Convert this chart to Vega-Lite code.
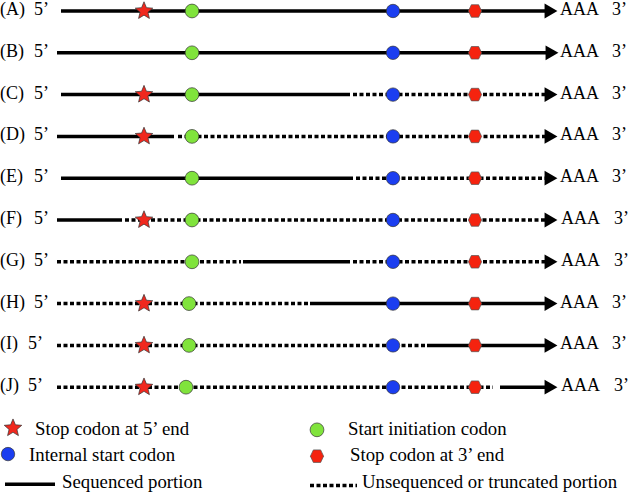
{
  "$schema": "https://vega.github.io/schema/vega-lite/v6.json",
  "autosize": {"type": "none"},
  "width": 628,
  "height": 496,
  "padding": 0,
  "background": "white",
  "config": {"view": {"stroke": null}},
  "datasets": {
    "segments": [
      {"row": 0, "x1": 61, "x2": 548, "style": "solid"},
      {"row": 1, "x1": 57, "x2": 548, "style": "solid"},
      {"row": 2, "x1": 61, "x2": 350, "style": "solid"},
      {"row": 2, "x1": 353, "x2": 548, "style": "dotted"},
      {"row": 3, "x1": 57, "x2": 174, "style": "solid"},
      {"row": 3, "x1": 178, "x2": 548, "style": "dotted"},
      {"row": 4, "x1": 61, "x2": 353, "style": "solid"},
      {"row": 4, "x1": 356, "x2": 548, "style": "dotted"},
      {"row": 5, "x1": 57, "x2": 122, "style": "solid"},
      {"row": 5, "x1": 125, "x2": 548, "style": "dotted"},
      {"row": 6, "x1": 57, "x2": 241, "style": "dotted"},
      {"row": 6, "x1": 243, "x2": 350, "style": "solid"},
      {"row": 6, "x1": 353, "x2": 548, "style": "dotted"},
      {"row": 7, "x1": 57, "x2": 308, "style": "dotted"},
      {"row": 7, "x1": 310, "x2": 548, "style": "solid"},
      {"row": 8, "x1": 57, "x2": 425, "style": "dotted"},
      {"row": 8, "x1": 427, "x2": 548, "style": "solid"},
      {"row": 9, "x1": 57, "x2": 493, "style": "dotted"},
      {"row": 9, "x1": 500, "x2": 548, "style": "solid"},
      {"row": 11.32, "x1": 5, "x2": 55, "style": "solid"},
      {"row": 11.35, "x1": 310, "x2": 357, "style": "dotted"}
    ],
    "symbols": [
      {"row": 0, "x": 551, "kind": "arrow"}, {"row": 1, "x": 552, "kind": "arrow"}, {"row": 2, "x": 551, "kind": "arrow"},
      {"row": 3, "x": 551, "kind": "arrow"}, {"row": 4, "x": 551, "kind": "arrow"}, {"row": 5, "x": 551, "kind": "arrow"},
      {"row": 6, "x": 551, "kind": "arrow"}, {"row": 7, "x": 551, "kind": "arrow"}, {"row": 8, "x": 551, "kind": "arrow"},
      {"row": 9, "x": 551, "kind": "arrow"},
      {"row": 0, "x": 144, "kind": "stop5"}, {"row": 2, "x": 144, "kind": "stop5"}, {"row": 3, "x": 144, "kind": "stop5"},
      {"row": 5, "x": 144, "kind": "stop5"}, {"row": 7, "x": 144, "kind": "stop5"}, {"row": 8, "x": 144, "kind": "stop5"},
      {"row": 9, "x": 144, "kind": "stop5"}, {"row": 9.98, "x": 13, "kind": "stop5"},
      {"row": 0, "x": 192, "kind": "start"}, {"row": 1, "x": 192, "kind": "start"}, {"row": 2, "x": 192, "kind": "start"},
      {"row": 3, "x": 192, "kind": "start"}, {"row": 4, "x": 192, "kind": "start"}, {"row": 5, "x": 192, "kind": "start"},
      {"row": 6, "x": 192, "kind": "start"}, {"row": 7, "x": 189, "kind": "start"}, {"row": 8, "x": 189, "kind": "start"},
      {"row": 9, "x": 186, "kind": "start"}, {"row": 10.02, "x": 317, "kind": "start"},
      {"row": 0, "x": 393, "kind": "internal"}, {"row": 1, "x": 393, "kind": "internal"}, {"row": 2, "x": 393, "kind": "internal"},
      {"row": 3, "x": 393, "kind": "internal"}, {"row": 4, "x": 393, "kind": "internal"}, {"row": 5, "x": 393, "kind": "internal"},
      {"row": 6, "x": 393, "kind": "internal"}, {"row": 7, "x": 393, "kind": "internal"}, {"row": 8, "x": 393, "kind": "internal"},
      {"row": 9, "x": 393, "kind": "internal"}, {"row": 10.6, "x": 8, "kind": "internal"},
      {"row": 0, "x": 475, "kind": "stop3"}, {"row": 1, "x": 475, "kind": "stop3"}, {"row": 2, "x": 475, "kind": "stop3"},
      {"row": 3, "x": 475, "kind": "stop3"}, {"row": 4, "x": 475, "kind": "stop3"}, {"row": 5, "x": 475, "kind": "stop3"},
      {"row": 6, "x": 475, "kind": "stop3"}, {"row": 7, "x": 475, "kind": "stop3"}, {"row": 8, "x": 475, "kind": "stop3"},
      {"row": 9, "x": 475, "kind": "stop3"}, {"row": 10.65, "x": 317, "kind": "stop3"}
    ],
    "texts": [
      {"row": 0, "x": 0, "t": "(A)"}, {"row": 0, "x": 34, "t": "5’"}, {"row": 0, "x": 560, "t": "AAA"}, {"row": 0, "x": 612, "t": "3’"},
      {"row": 1, "x": 0, "t": "(B)"}, {"row": 1, "x": 34, "t": "5’"}, {"row": 1, "x": 560, "t": "AAA"}, {"row": 1, "x": 612, "t": "3’"},
      {"row": 2, "x": 0, "t": "(C)"}, {"row": 2, "x": 34, "t": "5’"}, {"row": 2, "x": 560, "t": "AAA"}, {"row": 2, "x": 612, "t": "3’"},
      {"row": 3, "x": 0, "t": "(D)"}, {"row": 3, "x": 34, "t": "5’"}, {"row": 3, "x": 560, "t": "AAA"}, {"row": 3, "x": 612, "t": "3’"},
      {"row": 4, "x": 0, "t": "(E)"}, {"row": 4, "x": 34, "t": "5’"}, {"row": 4, "x": 560, "t": "AAA"}, {"row": 4, "x": 612, "t": "3’"},
      {"row": 5, "x": 0, "t": "(F)"}, {"row": 5, "x": 34, "t": "5’"}, {"row": 5, "x": 561, "t": "AAA"}, {"row": 5, "x": 614, "t": "3’"},
      {"row": 6, "x": 0, "t": "(G)"}, {"row": 6, "x": 34, "t": "5’"}, {"row": 6, "x": 561, "t": "AAA"}, {"row": 6, "x": 614, "t": "3’"},
      {"row": 7, "x": 0, "t": "(H)"}, {"row": 7, "x": 34, "t": "5’"}, {"row": 7, "x": 560, "t": "AAA"}, {"row": 7, "x": 612, "t": "3’"},
      {"row": 8, "x": 0, "t": "(I)"}, {"row": 8, "x": 28, "t": "5’"}, {"row": 8, "x": 560, "t": "AAA"}, {"row": 8, "x": 612, "t": "3’"},
      {"row": 9, "x": 0, "t": "(J)"}, {"row": 9, "x": 28, "t": "5’"}, {"row": 9, "x": 561, "t": "AAA"}, {"row": 9, "x": 614, "t": "3’"},
      {"row": 10.02, "x": 35, "t": "Stop codon at 5’ end"},
      {"row": 10.02, "x": 348, "t": "Start initiation codon"},
      {"row": 10.65, "x": 29, "t": "Internal start codon"},
      {"row": 10.65, "x": 350, "t": "Stop codon at 3’ end"},
      {"row": 11.3, "x": 62, "t": "Sequenced portion"},
      {"row": 11.3, "x": 362, "t": "Unsequenced or truncated portion"}
    ]
  },
  "layer": [
    {
      "data": {"name": "segments"},
      "mark": {"type": "rule", "strokeWidth": 3.5, "color": "black", "strokeCap": "butt"},
      "encoding": {
        "x": {"field": "x1", "type": "quantitative", "scale": {"domain": [0, 628], "nice": false, "zero": false}, "axis": null},
        "x2": {"field": "x2"},
        "y": {"field": "row", "type": "quantitative", "scale": {"domain": [-0.263, 11.603], "nice": false, "zero": false, "reverse": true}, "axis": null},
        "strokeDash": {"field": "style", "type": "nominal", "scale": {"domain": ["solid", "dotted"], "range": [[1, 0], [4, 2.5]]}, "legend": null}
      }
    },
    {
      "data": {"name": "texts"},
      "transform": [{"filter": "datum.row < 10"}],
      "mark": {"type": "text", "align": "left", "baseline": "middle", "font": "Times New Roman", "fontSize": 18, "fill": "black", "dy": -1},
      "encoding": {
        "x": {"field": "x", "type": "quantitative"},
        "y": {"field": "row", "type": "quantitative"},
        "text": {"field": "t"}
      }
    },
    {
      "data": {"name": "texts"},
      "transform": [{"filter": "datum.row >= 10"}],
      "mark": {"type": "text", "align": "left", "baseline": "middle", "font": "Times New Roman", "fontSize": 18.8, "fill": "black", "dy": -1},
      "encoding": {
        "x": {"field": "x", "type": "quantitative"},
        "y": {"field": "row", "type": "quantitative"},
        "text": {"field": "t"}
      }
    },
    {
      "data": {"name": "symbols"},
      "transform": [{"filter": "datum.kind === 'arrow'"}],
      "mark": {"type": "point", "shape": "triangle-right", "filled": true, "color": "black", "opacity": 1, "size": 220},
      "encoding": {
        "x": {"field": "x", "type": "quantitative"},
        "y": {"field": "row", "type": "quantitative"}
      }
    },
    {
      "data": {"name": "symbols"},
      "transform": [{"filter": "datum.kind === 'stop5'"}],
      "mark": {"type": "point", "shape": "M0,-1L0.264,-0.364L0.951,-0.309L0.428,0.139L0.588,0.809L0,0.45L-0.588,0.809L-0.428,0.139L-0.951,-0.309L-0.264,-0.364Z", "filled": true, "fill": "#f0281e", "stroke": "#333333", "strokeWidth": 0.7, "opacity": 1, "size": 340},
      "encoding": {
        "x": {"field": "x", "type": "quantitative"},
        "y": {"field": "row", "type": "quantitative"}
      }
    },
    {
      "data": {"name": "symbols"},
      "transform": [{"filter": "datum.kind === 'start'"}],
      "mark": {"type": "point", "shape": "circle", "filled": true, "fill": "#80e33c", "stroke": "#333333", "strokeWidth": 0.7, "opacity": 1, "size": 190},
      "encoding": {
        "x": {"field": "x", "type": "quantitative"},
        "y": {"field": "row", "type": "quantitative"}
      }
    },
    {
      "data": {"name": "symbols"},
      "transform": [{"filter": "datum.kind === 'internal'"}],
      "mark": {"type": "point", "shape": "circle", "filled": true, "fill": "#1b3ef0", "stroke": "#333333", "strokeWidth": 0.7, "opacity": 1, "size": 180},
      "encoding": {
        "x": {"field": "x", "type": "quantitative"},
        "y": {"field": "row", "type": "quantitative"}
      }
    },
    {
      "data": {"name": "symbols"},
      "transform": [{"filter": "datum.kind === 'stop3'"}],
      "mark": {"type": "point", "shape": "M-1,0L-0.55,-0.95L0.55,-0.95L1,0L0.55,0.95L-0.55,0.95Z", "filled": true, "fill": "#f5230f", "stroke": "#555555", "strokeWidth": 0.7, "opacity": 1, "size": 175},
      "encoding": {
        "x": {"field": "x", "type": "quantitative"},
        "y": {"field": "row", "type": "quantitative"}
      }
    }
  ]
}
